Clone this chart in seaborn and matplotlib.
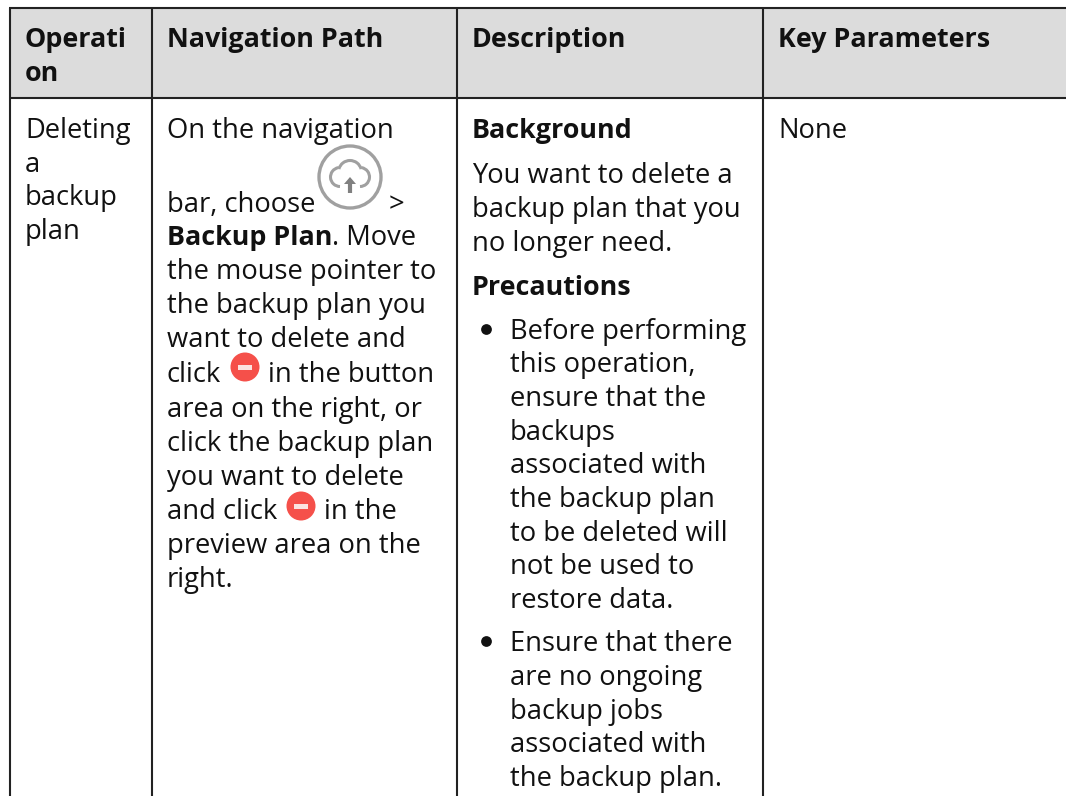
import seaborn as sns
import matplotlib.pyplot as plt
from matplotlib.patches import Circle, Rectangle, Arc, Polygon

sns.set_theme(style="white")
plt.rcParams["font.family"] = ["Open Sans", "DejaVu Sans"]

headers = [["Operati", "on"], ["Navigation Path"], ["Description"], ["Key Parameters"]]
col1_lines = ["Deleting", "a", "backup", "plan"]
col2_lines = [
    [("On the navigation", False)],
    [("bar, choose", False)],
    [("Backup Plan", True), (". Move", False)],
    [("the mouse pointer to", False)],
    [("the backup plan you", False)],
    [("want to delete and", False)],
    [("click", False)],
    [("area on the right, or", False)],
    [("click the backup plan", False)],
    [("you want to delete", False)],
    [("and click", False)],
    [("preview area on the", False)],
    [("right.", False)],
]
col3_lines = [
    ("Background", True),
    ("You want to delete a", False),
    ("backup plan that you", False),
    ("no longer need.", False),
    ("Precautions", True),
]
bullet1_lines = ["Before performing", "this operation,", "ensure that the", "backups",
                 "associated with", "the backup plan", "to be deleted will",
                 "not be used to", "restore data."]
bullet2_lines = ["Ensure that there", "are no ongoing", "backup jobs",
                 "associated with", "the backup plan."]
col4_lines = ["None"]

W, H = 1066, 798
FS = 19.7
FS_BOLD = 19.4
INK = "#111111"
LINE = "#222222"

fig = plt.figure(figsize=(W / 100, H / 100), dpi=100)
ax = fig.add_axes([0, 0, 1, 1])
ax.set_xlim(0, W)
ax.set_ylim(H, 0)
ax.axis("off")

# table frame
edges = [10, 152, 457, 763]
ax.add_patch(Rectangle((10, 8), W, 90, fc="#dcdcdc", ec="none"))
for x in edges:
    ax.plot([x, x], [8, 796], color=LINE, lw=1.5, solid_capstyle="butt")
for y in [8, 98]:
    ax.plot([9, W], [y, y], color=LINE, lw=1.5, solid_capstyle="butt")


def put(x, y, s, bold=False):
    return ax.text(x, y, s, fontsize=FS_BOLD if bold else FS, color=INK, va="baseline",
                   fontweight="bold" if bold else "normal")


def run(x, y, parts):
    r = fig.canvas.get_renderer()
    for s, bold in parts:
        t = put(x, y, s, bold)
        x = ax.transData.inverted().transform(t.get_window_extent(r))[1][0]
    return x


# header
put(25, 47, headers[0][0], True)
put(25, 81, headers[0][1], True)
put(167, 47, headers[1][0], True)
put(472, 47, headers[2][0], True)
put(778, 47, headers[3][0], True)

# first column
for y, s in zip([138, 172, 205, 239], col1_lines):
    put(25, y, s)

# second column
col2_y = [138, 212, 245, 279, 313, 347, 382, 417, 451, 485, 519, 553, 587]
for y, parts in zip(col2_y, col2_lines):
    run(167, y, parts)
put(389, 212, ">")

# third column
for y, (s, bold) in zip([138, 183, 217, 251, 295], col3_lines):
    put(472, y, s, bold)

b1_y = [339, 372, 406, 440, 473, 507, 541, 574, 608]
b2_y = [651, 685, 719, 752, 786]
for y, s in zip(b1_y, bullet1_lines):
    put(510, y, s)
for y, s in zip(b2_y, bullet2_lines):
    put(510, y, s)
sns.scatterplot(x=[486, 486], y=[329, 641], s=60, color=INK, linewidth=0, ax=ax, legend=False)

# fourth column
put(778, 138, col4_lines[0])

# red delete buttons
for cx, cy, base, tail in [(245, 367, 382, "in the button"), (301, 506, 519, "in the")]:
    ax.add_patch(Circle((cx, cy), 14.5, fc="#f5504a", ec="none"))
    ax.add_patch(Rectangle((cx - 7, cy - 2.5), 14, 5, fc="#fbe3e0", ec="none"))
    put(cx + 23, base, tail)

# cloud upload icon
GR = "#a0a0a0"
ax.add_patch(Circle((350, 177), 31, fc="white", ec=GR, lw=2.4))
for cx, cy, w, h, a, b in [(350, 172, 23, 23, 195, 345), (340, 177, 19, 19, 90, 260),
                           (360, 177, 19, 19, 280, 90)]:
    ax.add_patch(Arc((cx, cy), w, h, theta1=a, theta2=b, color=GR, lw=2.2))
ax.plot([350, 350], [182, 193], color="#808080", lw=3, solid_capstyle="butt")
ax.add_patch(Polygon([(344, 184), (350, 177), (356, 184)], fc="#808080", ec="none"))

fig.savefig("out.png", dpi=100)
